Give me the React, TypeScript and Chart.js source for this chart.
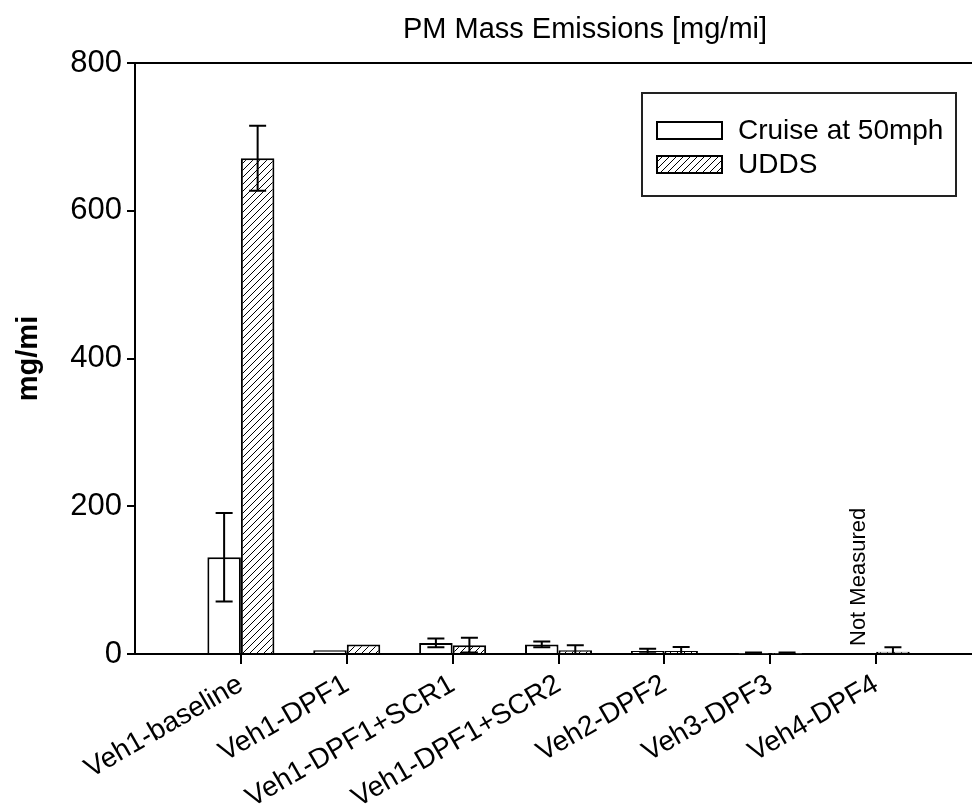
import React, { useEffect, useRef } from 'react';
import { Chart, registerables } from 'chart.js';

Chart.register(...registerables);

const categories = [
  'Veh1-baseline',
  'Veh1-DPF1',
  'Veh1-DPF1+SCR1',
  'Veh1-DPF1+SCR2',
  'Veh2-DPF2',
  'Veh3-DPF3',
  'Veh4-DPF4',
];
const seriesLabels = ['Cruise at 50mph', 'UDDS'];
const cruiseValues: (number | null)[] = [131, 5, 15, 13, 4, 0.5, null];
const cruiseErrors: (number | null)[] = [60, 0, 6, 4, 3, 1.5, null];
const uddsValues: (number | null)[] = [671, 13, 12, 5, 4, 0.5, 3];
const uddsErrors: (number | null)[] = [44, 0, 10, 7, 5.5, 1.5, 6];
const yTickValues = [0, 200, 400, 600, 800];
const chartTitle = 'PM Mass Emissions [mg/mi]';
const yAxisTitle = 'mg/mi';
const notMeasuredText = 'Not Measured';

const FONT = '"Liberation Sans", Arial, sans-serif';
const CANVAS_W = 1045;
const CANVAS_H = 811;

function makeHatch(): CanvasPattern | string {
  const c = document.createElement('canvas');
  const s = 7;
  c.width = s;
  c.height = s;
  const g = c.getContext('2d');
  if (!g) return '#fff';
  g.fillStyle = '#fff';
  g.fillRect(0, 0, s, s);
  g.strokeStyle = '#000';
  g.lineWidth = 1;
  g.beginPath();
  g.moveTo(-1, s + 1);
  g.lineTo(s + 1, -1);
  g.moveTo(-1, 1);
  g.lineTo(1, -1);
  g.moveTo(s - 1, s + 1);
  g.lineTo(s + 1, s - 1);
  g.stroke();
  const p = g.createPattern(c, 'repeat');
  return p || '#fff';
}

export default function App() {
  const ref = useRef<HTMLCanvasElement | null>(null);

  useEffect(() => {
    const canvas = ref.current;
    if (!canvas) return;
    const hatch = makeHatch();
    const valueSets = [cruiseValues, uddsValues];
    const errorSets = [cruiseErrors, uddsErrors];
    const fills = ['#ffffff', hatch];

    const decor = {
      id: 'decor',
      afterDatasetsDraw(chart: any) {
        const ctx = chart.ctx;
        const ys = chart.scales.y;
        ctx.save();
        ctx.strokeStyle = '#000';
        ctx.lineWidth = 2;
        valueSets.forEach((vals, di) => {
          const meta = chart.getDatasetMeta(di);
          meta.data.forEach((el: any, i: number) => {
            const v = vals[i];
            const e = errorSets[di][i];
            if (v == null || !e) return;
            const x = el.x;
            const yt = ys.getPixelForValue(v + e);
            const yb = ys.getPixelForValue(Math.max(0, v - e));
            const cap = 8.5;
            ctx.beginPath();
            ctx.moveTo(x, yt);
            ctx.lineTo(x, yb);
            ctx.moveTo(x - cap, yt);
            ctx.lineTo(x + cap, yt);
            ctx.moveTo(x - cap, yb);
            ctx.lineTo(x + cap, yb);
            ctx.stroke();
          });
        });
        ctx.restore();
      },
      afterDraw(chart: any) {
        const ctx = chart.ctx;
        const { left, right, top } = chart.chartArea;
        ctx.save();
        // top frame line
        ctx.strokeStyle = '#000';
        ctx.lineWidth = 2;
        ctx.beginPath();
        ctx.moveTo(left, top);
        ctx.lineTo(right, top);
        ctx.stroke();

        // title
        ctx.fillStyle = '#000';
        ctx.font = `29px ${FONT}`;
        ctx.textAlign = 'center';
        ctx.textBaseline = 'alphabetic';
        ctx.fillText(chartTitle, (left + right) / 2, 38);

        // legend
        const bx = left + 507;
        const by = top + 30;
        const bw = 314;
        const bh = 103;
        ctx.lineWidth = 2;
        ctx.strokeStyle = '#222';
        ctx.strokeRect(bx, by, bw, bh);
        ctx.font = `28px ${FONT}`;
        ctx.textAlign = 'left';
        ctx.textBaseline = 'middle';
        seriesLabels.forEach((lab, i) => {
          const sx = bx + 15;
          const sy = by + 29 + i * 34;
          ctx.fillStyle = fills[i] as any;
          ctx.fillRect(sx, sy, 65, 17);
          ctx.strokeStyle = '#000';
          ctx.lineWidth = 2;
          ctx.strokeRect(sx, sy, 65, 17);
          ctx.fillStyle = '#000';
          ctx.fillText(lab, sx + 81, sy + 9);
        });

        // Not Measured annotation
        const meta = chart.getDatasetMeta(1);
        const idx = cruiseValues.findIndex((v) => v == null);
        if (idx >= 0 && meta.data[idx]) {
          const el: any = meta.data[idx];
          const w = el.width || 33;
          const x = el.x - w;
          const y = chart.scales.y.getPixelForValue(0) - 8;
          ctx.translate(x, y);
          ctx.rotate(-Math.PI / 2);
          ctx.font = `22px ${FONT}`;
          ctx.textAlign = 'left';
          ctx.textBaseline = 'middle';
          ctx.fillStyle = '#000';
          ctx.fillText(notMeasuredText, 0, 0);
        }
        ctx.restore();
      },
    };

    const chart = new Chart(canvas, {
      type: 'bar',
      data: {
        datasets: [
          {
            label: seriesLabels[0],
            data: cruiseValues.map((v, i) => ({ x: i + 1, y: v })) as any,
            backgroundColor: '#ffffff',
            borderColor: '#000',
            borderWidth: 2,
          },
          {
            label: seriesLabels[1],
            data: uddsValues.map((v, i) => ({ x: i + 1, y: v })) as any,
            backgroundColor: hatch as any,
            borderColor: '#000',
            borderWidth: 2,
          },
        ],
      },
      options: {
        animation: false,
        responsive: false,
        devicePixelRatio: 1,
        categoryPercentage: 0.633,
        barPercentage: 1,
        layout: { padding: { top: 63, right: 10, left: 0, bottom: 0 } },
        plugins: {
          legend: { display: false },
          title: { display: false },
          tooltip: { enabled: false },
        },
        scales: {
          x: {
            type: 'linear',
            min: 0,
            max: 8.5,
            offset: false,
            afterBuildTicks: (scale: any) => {
              scale.ticks = categories.map((_, i) => ({ value: i + 1 }));
            },
            afterFit: (scale: any) => {
              scale.height = CANVAS_H - 654;
            },
            ticks: {
              autoSkip: false,
              minRotation: 30,
              maxRotation: 30,
              padding: 4,
              color: '#000',
              font: { family: FONT, size: 28 },
              callback: (v: any) => categories[Math.round(Number(v)) - 1] ?? '',
            },
            grid: {
              drawOnChartArea: false,
              drawTicks: true,
              tickLength: 10,
              color: '#000',
              lineWidth: 2,
              offset: false,
            },
            border: { display: true, color: '#000', width: 2 },
          },
          y: {
            type: 'linear',
            min: 0,
            max: 800,
            afterBuildTicks: (scale: any) => {
              scale.ticks = yTickValues.map((v) => ({ value: v }));
            },
            afterFit: (scale: any) => {
              scale.width = 135;
            },
            ticks: {
              padding: 5,
              color: '#000',
              font: { family: FONT, size: 31 },
            },
            title: {
              display: true,
              text: yAxisTitle,
              color: '#000',
              font: { family: FONT, size: 29, weight: 'bold' },
              padding: { top: 12, bottom: 0 },
            },
            grid: {
              drawOnChartArea: false,
              drawTicks: true,
              tickLength: 8,
              color: '#000',
              lineWidth: 2,
            },
            border: { display: true, color: '#000', width: 2 },
          },
        },
      },
      plugins: [decor],
    } as any);

    return () => chart.destroy();
  }, []);

  return (
    <div
      style={{
        position: 'fixed',
        left: 0,
        top: 0,
        width: 972,
        height: 811,
        overflow: 'hidden',
        background: '#fff',
      }}
    >
      <canvas
        ref={ref}
        width={CANVAS_W}
        height={CANVAS_H}
        style={{ width: CANVAS_W, height: CANVAS_H, display: 'block' }}
      />
    </div>
  );
}
